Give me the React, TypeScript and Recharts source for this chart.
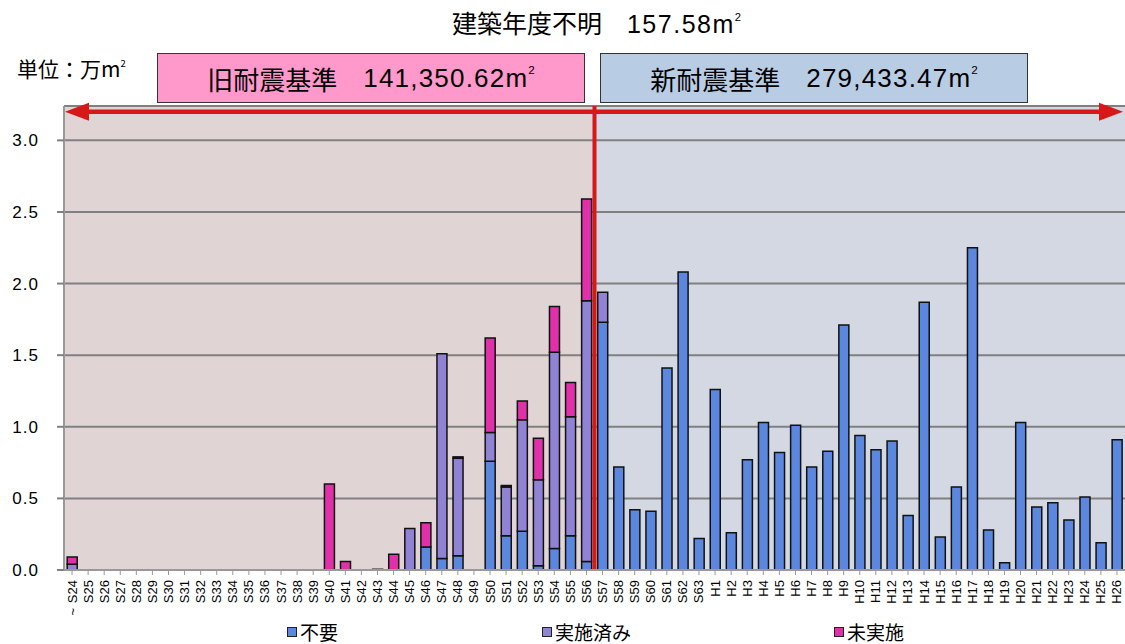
import { Bar, BarChart, CartesianGrid, ReferenceArea, ReferenceLine, XAxis, YAxis } from 'recharts';

const categories = [
  'S24~', 'S25', 'S26', 'S27', 'S28', 'S29', 'S30', 'S31', 'S32', 'S33', 'S34', 'S35', 'S36', 'S37', 'S38', 'S39',
  'S40', 'S41', 'S42', 'S43', 'S44', 'S45', 'S46', 'S47', 'S48', 'S49', 'S50', 'S51', 'S52', 'S53', 'S54', 'S55', 'S56',
  'S57', 'S58', 'S59', 'S60', 'S61', 'S62', 'S63',
  'H1', 'H2', 'H3', 'H4', 'H5', 'H6', 'H7', 'H8', 'H9', 'H10', 'H11', 'H12', 'H13',
  'H14', 'H15', 'H16', 'H17', 'H18', 'H19', 'H20', 'H21', 'H22', 'H23', 'H24', 'H25', 'H26',
];

// 不要 (万㎡)
const fuyo = [
  0, 0, 0, 0, 0, 0, 0, 0, 0, 0, 0, 0, 0, 0, 0, 0,
  0, 0, 0, 0, 0, 0, 0.16, 0.08, 0.1, 0, 0.76, 0.24, 0.27, 0.03, 0.15, 0.24, 0.06,
  1.73, 0.72, 0.42, 0.41, 1.41, 2.08, 0.22,
  1.26, 0.26, 0.77, 1.03, 0.82, 1.01, 0.72, 0.83, 1.71, 0.94, 0.84, 0.9, 0.38,
  1.87, 0.23, 0.58, 2.25, 0.28, 0.05, 1.03, 0.44, 0.47, 0.35, 0.51, 0.19, 0.91,
];

// 実施済み
const jisshi = [
  0.04, 0, 0, 0, 0, 0, 0, 0, 0, 0, 0, 0, 0, 0, 0, 0,
  0, 0, 0, 0.005, 0, 0.29, 0, 1.43, 0.68, 0, 0.2, 0.34, 0.78, 0.6, 1.37, 0.83, 1.82,
  0.21, 0, 0, 0, 0, 0, 0,
  0, 0, 0, 0, 0, 0, 0, 0, 0, 0, 0, 0, 0,
  0, 0, 0, 0, 0, 0, 0, 0, 0, 0, 0, 0, 0,
];

// 未実施
const mijisshi = [
  0.05, 0, 0, 0, 0, 0, 0, 0, 0, 0, 0, 0, 0, 0, 0, 0,
  0.6, 0.06, 0, 0, 0.11, 0, 0.17, 0, 0.01, 0, 0.66, 0.01, 0.13, 0.29, 0.32, 0.24, 0.71,
  0, 0, 0, 0, 0, 0, 0,
  0, 0, 0, 0, 0, 0, 0, 0, 0, 0, 0, 0, 0,
  0, 0, 0, 0, 0, 0, 0, 0, 0, 0, 0, 0, 0,
];

const yTicks = [0, 0.5, 1, 1.5, 2, 2.5, 3];

const data = categories.map((name, i) => ({
  name,
  fuyo: fuyo[i],
  jisshi: jisshi[i],
  mijisshi: mijisshi[i],
}));

const JP = '"Noto Sans CJK JP", "Liberation Sans", sans-serif';
const NUM = '"Liberation Sans", "Noto Sans CJK JP", sans-serif';

const BLUE = '#5B88DE';
const PURPLE = '#9083D5';
const PINK = '#E030AA';
const RED = '#D81818';

function XTick({ x, y, payload }: any) {
  const raw: string = payload.value;
  const hasTilde = raw.endsWith('~');
  const label = hasTilde ? raw.slice(0, -1) : raw;
  return (
    <g transform={`translate(${x},${y})`}>
      <text transform="rotate(-90)" x={-3} y={4.5} textAnchor="end" fontSize={13} fill="#000" fontFamily={NUM}>
        {label}
      </text>
      {hasTilde && (
        <text transform="rotate(-90)" x={-31} y={4.5} textAnchor="end" fontSize={13} fill="#000" fontFamily={NUM}>
          ~
        </text>
      )}
    </g>
  );
}

function ArrowLine(props: any) {
  const { x1, y1, x2 } = props;
  const l = x1 + 1;
  const r = x2 - 2;
  const head = 24;
  const half = 9;
  return (
    <g>
      <line x1={l + head - 4} y1={y1} x2={r - head + 4} y2={y1} stroke={RED} strokeWidth={4.5} />
      <polygon points={`${l},${y1} ${l + head},${y1 - half} ${l + head},${y1 + half}`} fill={RED} />
      <polygon points={`${r},${y1} ${r - head},${y1 - half} ${r - head},${y1 + half}`} fill={RED} />
    </g>
  );
}

function Sq({ m }: { m: string }) {
  return (
    <span>
      {m}
      <span style={{ fontSize: '0.45em', verticalAlign: '1.1em', letterSpacing: 0 }}>2</span>
    </span>
  );
}

function LegendItem({ left, color, label }: { left: number; color: string; label: string }) {
  return (
    <div
      style={{
        position: 'absolute', left, top: 621, display: 'flex', alignItems: 'center',
        fontFamily: JP, fontSize: 19, lineHeight: '21px',
      }}
    >
      <div style={{ width: 8, height: 8, background: color, border: '1.5px solid #222', marginRight: 3 }} />
      <span>{label}</span>
    </div>
  );
}

const boxStyle = {
  position: 'absolute' as const,
  top: 53,
  width: 428,
  height: 50,
  boxSizing: 'border-box' as const,
  border: '1.5px solid #333',
  display: 'flex',
  alignItems: 'center',
  justifyContent: 'center',
  fontFamily: JP,
  fontSize: 26,
};

export default function App() {
  return (
    <div style={{ position: 'relative', width: 1125, height: 644, background: '#fff', overflow: 'hidden' }}>
      <style>{'body{margin:0}'}</style>

      <div style={{ position: 'absolute', left: 0, width: 1193, top: 4, textAlign: 'center', fontFamily: JP, fontSize: 25 }}>
        建築年度不明　<span style={{ fontFamily: NUM, letterSpacing: 1.5 }}>157.58<Sq m="m" /></span>
      </div>

      <div style={{ position: 'absolute', left: 17, top: 53, fontFamily: JP, fontSize: 21 }}>
        単位：万<Sq m="m" />
      </div>

      <div style={{ ...boxStyle, left: 157, background: '#FF99CC' }}>
        旧耐震基準　<span style={{ fontFamily: NUM, letterSpacing: 1.2 }}>141,350.62<Sq m="m" /></span>
      </div>

      <div style={{ ...boxStyle, left: 600, background: '#B8CCE4' }}>
        新耐震基準　<span style={{ fontFamily: NUM, letterSpacing: 1.2 }}>279,433.47<Sq m="m" /></span>
      </div>

      <div style={{ position: 'absolute', left: 0, top: 0 }}>
        <BarChart
          width={1125}
          height={644}
          data={data}
          margin={{ top: 106, right: 0, left: 0, bottom: 0 }}
          barCategoryGap="20%"
        >
          <ReferenceArea x1="S24~" x2="S56" y1={0} y2={3.24} fill="#E0D4D4" fillOpacity={1} stroke="none" zIndex={-200} />
          <ReferenceArea x1="S57" x2="H26" y1={0} y2={3.24} fill="#D3D8E2" fillOpacity={1} stroke="none" zIndex={-200} />
          <CartesianGrid vertical={false} stroke="#808080" strokeWidth={2} />
          <XAxis
            dataKey="name"
            interval={0}
            height={74}
            tick={<XTick />}
            tickLine={{ stroke: '#999' }}
            tickSize={5}
            axisLine={{ stroke: '#999', strokeWidth: 2 }}
          />
          <YAxis
            domain={[0, 3.24]}
            ticks={yTicks}
            width={64}
            tickFormatter={(v: number) => v.toFixed(1)}
            tick={{ fontSize: 17, fill: '#000', fontFamily: NUM, letterSpacing: 1 }}
            tickSize={7}
            tickMargin={18}
            tickLine={{ stroke: '#808080', strokeWidth: 2 }}
            axisLine={{ stroke: '#999', strokeWidth: 2 }}
          />
          <Bar dataKey="fuyo" stackId="a" fill={BLUE} stroke="#111" strokeWidth={1.5} isAnimationActive={false} />
          <Bar dataKey="jisshi" stackId="a" fill={PURPLE} stroke="#111" strokeWidth={1.5} isAnimationActive={false} />
          <Bar dataKey="mijisshi" stackId="a" fill={PINK} stroke="#111" strokeWidth={1.5} isAnimationActive={false} />
          <ReferenceLine x="S57" position="start" stroke={RED} strokeWidth={4} />
          <ReferenceLine y={3.2} shape={<ArrowLine />} />
        </BarChart>
      </div>

      <LegendItem left={287} color={BLUE} label="不要" />
      <LegendItem left={542} color={PURPLE} label="実施済み" />
      <LegendItem left={834} color={PINK} label="未実施" />
    </div>
  );
}
